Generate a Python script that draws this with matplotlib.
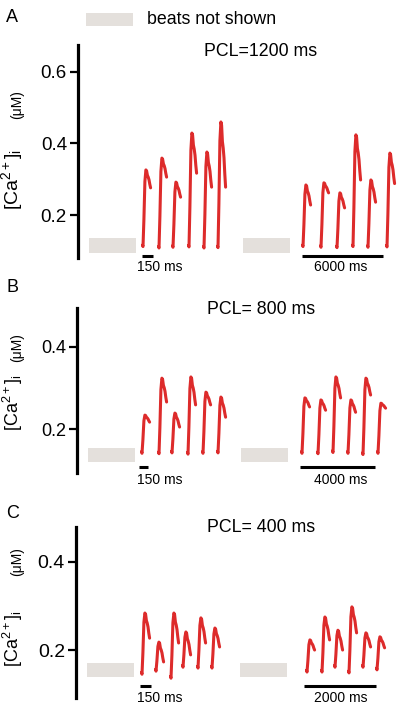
import matplotlib
matplotlib.use("Agg")
import matplotlib.pyplot as plt
from matplotlib.patches import Rectangle

plt.rcParams['font.family'] = ['Liberation Sans', 'DejaVu Sans']
plt.rcParams['mathtext.fontset'] = 'custom'
plt.rcParams['mathtext.rm'] = 'Liberation Sans'
plt.rcParams['mathtext.it'] = 'Liberation Sans:italic'

W, H = 400, 711

# ---------------- data ----------------
panel_letters = ["A", "B", "C"]
pcl_labels = ["PCL=1200 ms", "PCL= 800 ms", "PCL= 400 ms"]
yticks = [[0.2, 0.4, 0.6], [0.2, 0.4], [0.2, 0.4]]
ylims = [(0.080, 0.675), (0.093, 0.495), (0.091, 0.4795)]
long_bar_labels = ["6000 ms", "4000 ms", "2000 ms"]
short_bar_label = "150 ms"

# beat onsets (horizontal position of each displayed beat)
a_onset = [143, 159, 173, 189, 204, 218, 303, 321, 337, 353, 368, 387]
a_base = [0.112, 0.108, 0.110, 0.111, 0.108, 0.109, 0.112, 0.110, 0.109, 0.112, 0.110, 0.111]
a_peak = [0.326, 0.359, 0.292, 0.429, 0.376, 0.460, 0.284, 0.290, 0.262, 0.424, 0.298, 0.373]
a_end = [0.276, 0.306, 0.250, 0.317, 0.278, 0.278, 0.228, 0.262, 0.220, 0.298, 0.236, 0.288]

b_onset = [142, 159, 172, 188, 203, 218, 302, 318, 333, 348, 363, 378]
b_base = [0.141, 0.140, 0.142, 0.139, 0.141, 0.142, 0.141, 0.140, 0.143, 0.141, 0.138, 0.141]
b_peak = [0.234, 0.324, 0.239, 0.327, 0.290, 0.278, 0.276, 0.271, 0.327, 0.271, 0.324, 0.263]
b_end = [0.217, 0.266, 0.205, 0.259, 0.259, 0.229, 0.254, 0.246, 0.276, 0.241, 0.283, 0.251]

c_onset = [142, 156, 171, 183, 198, 212, 307, 322, 335, 349, 363, 377]
c_base = [0.145, 0.152, 0.136, 0.161, 0.159, 0.159, 0.150, 0.150, 0.161, 0.148, 0.161, 0.155]
c_peak = [0.284, 0.218, 0.284, 0.241, 0.273, 0.250, 0.223, 0.275, 0.245, 0.298, 0.239, 0.230]
c_end = [0.227, 0.173, 0.216, 0.189, 0.216, 0.207, 0.200, 0.223, 0.200, 0.239, 0.207, 0.205]

onsets = [a_onset, b_onset, c_onset]
bases = [a_base, b_base, c_base]
peaks = [a_peak, b_peak, c_peak]
ends = [a_end, b_end, c_end]

# gray "beats not shown" boxes (value range)
gray_low = [0.094, 0.120, 0.139]
gray_high = [0.136, 0.154, 0.170]
gray_x = [[89, 243], [88, 241], [87, 240]]
gray_w = 47
scalebar_y = [0.085, 0.107, 0.118]
short_bar_x = [(142, 153), (139, 148), (140, 151)]
long_bar_x = [(302, 383), (300, 375), (304, 376)]

# ---------------- layout ----------------
spine_px = [(45, 258), (308, 473), (527, 698)]   # top, bottom pixel of each axis
spine_x = [78, 77, 76]
tick_fs = [13.5, 13, 14]
main_label_fs = [14, 13, 13]
label_bottom_py = [210, 431, 667]
unit_top_py = [90, 333, 547]
letter_py = [18, 287, 513]
pcl_py = [52, 309, 527]
barlabel_py = [267, 480, 698]

RED = '#dd2b2b'
GRAY = '#e4e0dc'

# beat template (horizontal offsets and fraction of the beat shape)
tmpl_dx = [-0.5, 0.0, 0.9, 1.9, 2.9, 3.6, 4.4, 5.2, 6.0, 6.8, 7.6]

fig = plt.figure(figsize=(W / 100, H / 100), dpi=100)

def fx(px):
    return px / W

def fy(py):
    return 1 - py / H

for i in range(3):
    top, bot = spine_px[i]
    ax = fig.add_axes([0, fy(bot), 1, (bot - top) / H])
    ax.set_xlim(0, W)
    ax.set_ylim(*ylims[i])
    for s in ['top', 'right', 'bottom']:
        ax.spines[s].set_visible(False)
    ax.spines['left'].set_position(('data', spine_x[i]))
    ax.spines['left'].set_linewidth(2.3)
    ax.set_xticks([])
    ax.set_yticks(yticks[i])
    ax.set_yticklabels([f"{v:.1f}" for v in yticks[i]])
    ax.tick_params(axis='y', length=6, width=1.6, labelsize=tick_fs[i], pad=2)
    ax.patch.set_alpha(0)

    # beats
    for x0, b, p, e in zip(onsets[i], bases[i], peaks[i], ends[i]):
        xs = [x0 + d for d in tmpl_dx]
        ys = [b + 0.004, b, b + 0.35 * (p - b), b + 0.85 * (p - b), p,
              p - 0.05 * (p - e), p - 0.30 * (p - e), p - 0.40 * (p - e),
              p - 0.55 * (p - e), p - 0.80 * (p - e), e]
        ax.plot(xs, ys, color=RED, lw=2.2, solid_capstyle='round',
                solid_joinstyle='round')

    # gray boxes
    for gx in gray_x[i]:
        ax.add_patch(Rectangle((gx, gray_low[i]), gray_w,
                               gray_high[i] - gray_low[i],
                               facecolor=GRAY, edgecolor='none'))

    # scale bars
    for (x1, x2) in [short_bar_x[i], long_bar_x[i]]:
        ax.plot([x1, x2], [scalebar_y[i]] * 2, color='black', lw=2.2,
                solid_capstyle='butt', clip_on=False)
    fig.text(fx(160), fy(barlabel_py[i]), short_bar_label, ha='center',
             va='center', fontsize=10)
    fig.text(fx(341), fy(barlabel_py[i]), long_bar_labels[i], ha='center',
             va='center', fontsize=10)

    # texts
    fig.text(fx(6), fy(letter_py[i]), panel_letters[i], ha='left',
             va='center', fontsize=13)
    fig.text(fx(261), fy(pcl_py[i]), pcl_labels[i], ha='center',
             va='center', fontsize=12.8)
    fig.text(fx(25), fy(label_bottom_py[i]),
             r'$\mathrm{[Ca^{2+}]_{i}}$', rotation=90,
             ha='right', va='bottom', fontsize=main_label_fs[i])
    fig.text(fx(24), fy(unit_top_py[i]), '(μM)', rotation=90, ha='right',
             va='top', fontsize=10)

# legend
fig.patches.append(Rectangle((fx(86), fy(26)), fx(47), 13 / H,
                             transform=fig.transFigure, facecolor=GRAY,
                             edgecolor='none'))
fig.text(fx(147), fy(19), "beats not shown", ha='left', va='center',
         fontsize=12.8)

fig.savefig("out.png", dpi=100)
